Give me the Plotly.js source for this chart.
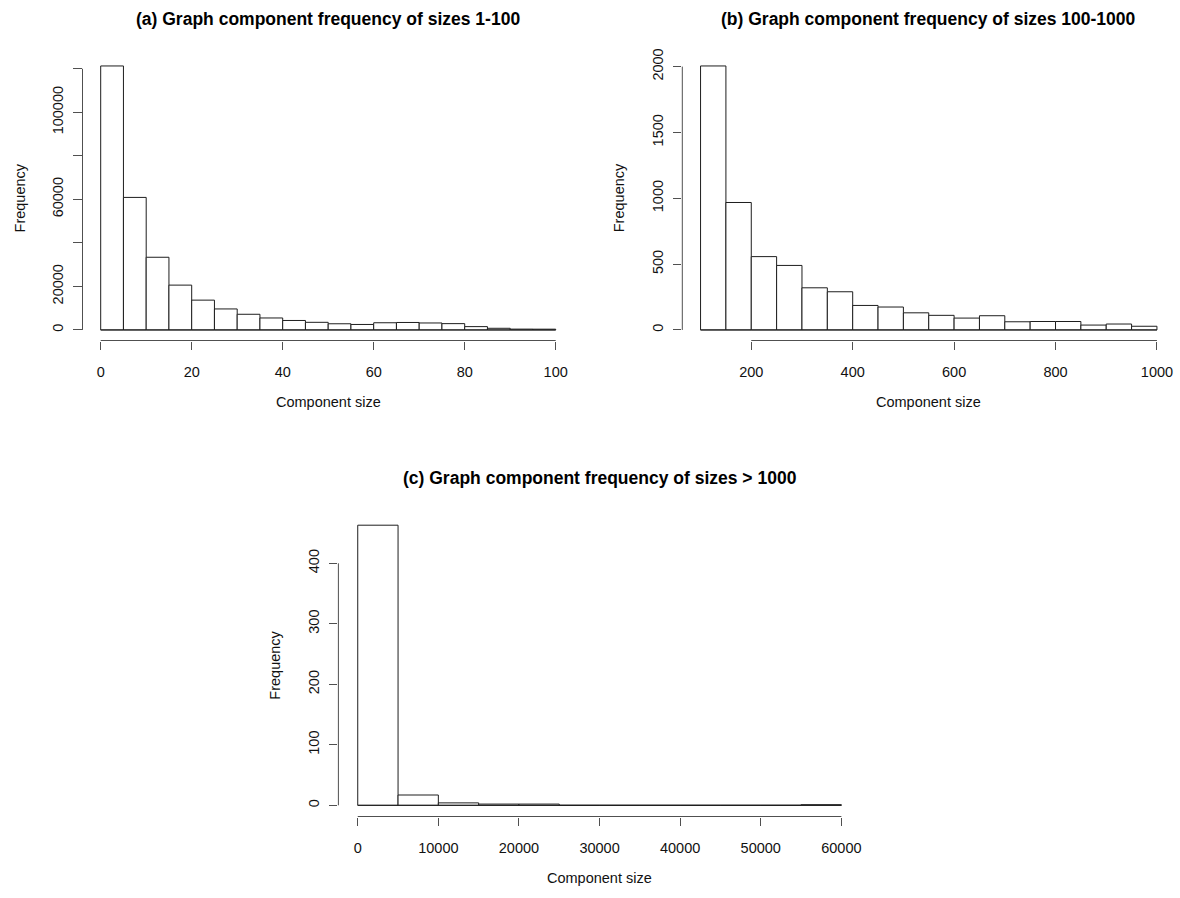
<!DOCTYPE html>
<html><head><meta charset="utf-8">
<script src="https://cdn.plot.ly/plotly-3.0.1.min.js"></script>
<style>html,body{margin:0;padding:0;background:#fff}#chart{width:1180px;height:898px}</style>
</head><body><div id="chart"></div>
<script>
// ---- data ----
const aBreaks = [0,5,10,15,20,25,30,35,40,45,50,55,60,65,70,75,80,85,90,95,100];
const aCounts = [121300,60900,33400,20600,13700,9650,7200,5500,4350,3500,2830,2520,3300,3430,3200,2900,1530,760,380,350];
const aXTicks = [0,20,40,60,80,100];
const aYTicks = [0,20000,40000,60000,80000,100000,120000];
const aYTickText = ["0","20000","","60000","","100000",""];

const bBreaks = [100,150,200,250,300,350,400,450,500,550,600,650,700,750,800,850,900,950,1000];
const bCounts = [2005,968,557,490,320,290,186,174,130,111,90,108,62,64,64,37,45,28];
const bXTicks = [200,400,600,800,1000];
const bYTicks = [0,500,1000,1500,2000];
const bYTickText = ["0","500","1000","1500","2000"];

const cBreaks = [0,5000,10000,15000,20000,25000,30000,35000,40000,45000,50000,55000,60000];
const cCounts = [463,17,4,2,2,0,0,0,0,0,0,1];
const cXTicks = [0,10000,20000,30000,40000,50000,60000];
const cYTicks = [0,100,200,300,400];
const cYTickText = ["0","100","200","300","400"];

const titles = [
  "(a) Graph component frequency of sizes 1-100",
  "(b) Graph component frequency of sizes 100-1000",
  "(c) Graph component frequency of sizes > 1000"
];
const xLabel = "Component size";
const yLabel = "Frequency";

// ---- layout helpers ----
const W = 1180, H = 898;
const FONT = "Liberation Sans, Arial, Helvetica, sans-serif";
const px = v => v / W;
const py = v => 1 - v / H;
const BAR_LINE = '#1e1e1e';
const AX_LINE = '#505050';

const panels = [
  {br:aBreaks, ct:aCounts, xt:aXTicks, yt:aYTicks, ytt:aYTickText, xpx:[82.5,573.9], ypx:[340.5,55.4], title:titles[0], titleY:19.5},
  {br:bBreaks, ct:bCounts, xt:bXTicks, yt:bYTicks, ytt:bYTickText, xpx:[682.3,1175.2], ypx:[340.5,55.4], title:titles[1], titleY:19.5},
  {br:cBreaks, ct:cCounts, xt:cXTicks, yt:cYTicks, ytt:cYTickText, xpx:[338.4,860.7], ypx:[816.5,514], title:titles[2], titleY:478}
];

function expand(lo, hi){ const d = (hi - lo) * 0.04; return [lo - d, hi + d]; }

const data = [], shapes = [], annotations = [];
const layout = {
  width: W, height: H, margin:{l:0,r:0,t:0,b:0},
  paper_bgcolor:'#fff', plot_bgcolor:'#fff', showlegend:false,
  font:{family:FONT, color:'#111'}, bargap:0
};

panels.forEach((p, i) => {
  const n = i === 0 ? '' : String(i + 1);
  const xa = 'x' + n, ya = 'y' + n;
  const mids = p.ct.map((c, k) => (p.br[k] + p.br[k + 1]) / 2);
  const widths = p.ct.map((c, k) => p.br[k + 1] - p.br[k]);
  data.push({
    type:'scatter', mode:'lines', x:[p.br[0], p.br[p.br.length - 1]], y:[0, 0],
    xaxis:xa, yaxis:ya, line:{color:BAR_LINE, width:1}, hoverinfo:'skip', cliponaxis:false
  });
  data.push({
    type:'bar', x:mids, y:p.ct, width:widths, xaxis:xa, yaxis:ya,
    marker:{color:'#fff', line:{color:BAR_LINE, width:1}}, hoverinfo:'skip'
  });
  const dx = [px(p.xpx[0]), px(p.xpx[1])];
  const dy = [py(p.ypx[0]), py(p.ypx[1])];
  const common = {
    showgrid:false, zeroline:false, showline:false, ticks:'outside',
    ticklen:8.7, tickwidth:1, tickcolor:AX_LINE, fixedrange:true,
    tickfont:{family:FONT, size:14.5, color:'#111'}, tickmode:'array'
  };
  layout['xaxis' + n] = Object.assign({}, common, {
    domain:dx, anchor:ya, range:expand(p.br[0], p.br[p.br.length - 1]),
    tickvals:p.xt, ticktext:p.xt.map(String), ticklabelstandoff:9
  });
  layout['yaxis' + n] = Object.assign({}, common, {
    domain:dy, anchor:xa, range:expand(0, Math.max(...p.ct)),
    tickvals:p.yt, ticktext:p.ytt, tickangle:-90, ticklabelstandoff:4
  });
  // R-style axis lines spanning first to last tick
  shapes.push({type:'line', xref:xa, yref:'paper', x0:p.xt[0], x1:p.xt[p.xt.length - 1],
    y0:dy[0], y1:dy[0], line:{color:AX_LINE, width:1}});
  shapes.push({type:'line', xref:'paper', yref:ya, x0:dx[0], x1:dx[0],
    y0:p.yt[0], y1:p.yt[p.yt.length - 1], line:{color:AX_LINE, width:1}});
  const cx = (dx[0] + dx[1]) / 2;
  annotations.push({text:p.title, xref:'paper', yref:'paper', x:cx, y:py(p.titleY),
    xanchor:'center', yanchor:'middle', showarrow:false,
    font:{family:FONT, size:17.5, weight:'bold', color:'#000'}});
  annotations.push({text:xLabel, xref:'paper', yref:'paper', x:cx, y:py(p.ypx[0] + 61.6),
    xanchor:'center', yanchor:'middle', showarrow:false,
    font:{family:FONT, size:14.5, color:'#111'}});
  annotations.push({text:yLabel, xref:'paper', yref:'paper', x:px(p.xpx[0] - 63),
    y:(dy[0] + dy[1]) / 2, xanchor:'center', yanchor:'middle', textangle:-90, showarrow:false,
    font:{family:FONT, size:14.5, color:'#111'}});
});
layout.shapes = shapes;
layout.annotations = annotations;

Plotly.newPlot('chart', data, layout, {staticPlot:true, displayModeBar:false});
</script>
</body></html>
